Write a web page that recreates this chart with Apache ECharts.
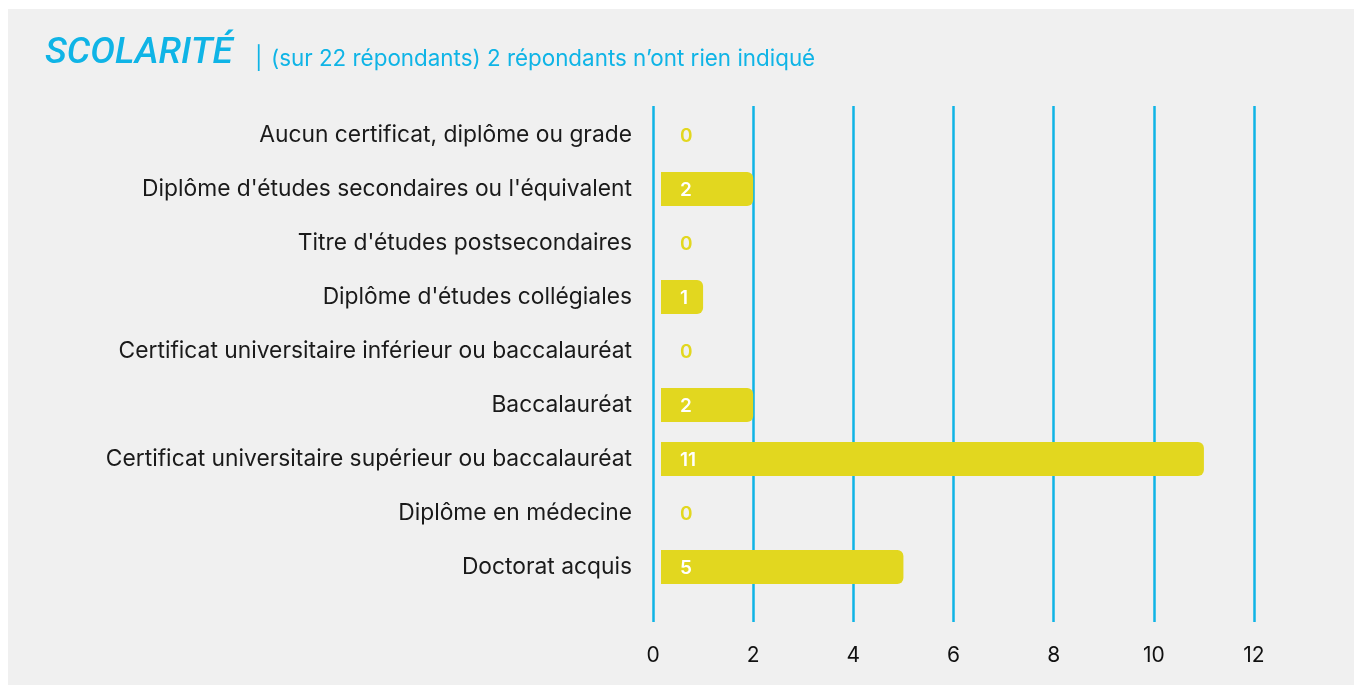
<!DOCTYPE html>
<html>
<head>
<meta charset="utf-8">
<script src="https://cdn.jsdelivr.net/npm/echarts@6/dist/echarts.min.js"></script>
<style>
html,body{margin:0;padding:0;background:#ffffff;}
#chart{width:1354px;height:685px;}
</style>
</head>
<body>
<div id="chart"></div>
<script>
const categories = [
  "Aucun certificat, diplôme ou grade",
  "Diplôme d'études secondaires ou l'équivalent",
  "Titre d'études postsecondaires",
  "Diplôme d'études collégiales",
  "Certificat universitaire inférieur ou baccalauréat",
  "Baccalauréat",
  "Certificat universitaire supérieur ou baccalauréat",
  "Diplôme en médecine",
  "Doctorat acquis"
];
const values = [0, 2, 0, 1, 0, 2, 11, 0, 5];
const xTicks = { min: 0, max: 12, interval: 2 };
const titleText = "SCOLARITÉ";
const separatorText = "|";
const subtitleText = "(sur 22 répondants) 2 répondants n’ont rien indiqué";

const BLUE = '#0fb4e6';
const YELLOW = '#e2d71f';
const BG = '#f0f0f0';

const chart = echarts.init(document.getElementById('chart'), null, {renderer: 'canvas'});

const option = {
  backgroundColor: '#ffffff',
  animation: false,
  graphic: [
    { type: 'rect', left: 8, top: 9, z: -10, shape: { width: 1346, height: 676 }, style: { fill: BG } },
    { type: 'text', left: 45, top: 35, style: { text: titleText, fill: BLUE, font: 'italic 500 37px Roboto' } },
    { type: 'text', left: 255, top: 48, style: { text: separatorText, fill: BLUE, font: '400 22.4px Inter' } },
    { type: 'text', left: 271, top: 48, style: { text: subtitleText, fill: BLUE, font: '400 22.4px Inter' } }
  ],
  grid: [
    { left: 653, right: 100, top: 106, bottom: 63 },
    { left: 653, right: 100, top: 108, bottom: 91 }
  ],
  xAxis: [
    {
      gridIndex: 0, type: 'value', min: xTicks.min, max: xTicks.max, interval: xTicks.interval,
      axisLine: { show: false }, axisTick: { show: false },
      splitLine: { show: true, lineStyle: { color: BLUE, width: 2.5 } },
      axisLabel: { margin: 23, color: '#111111', fontFamily: 'Inter', fontSize: 21 }
    },
    {
      gridIndex: 1, type: 'value', min: xTicks.min, max: xTicks.max, interval: xTicks.interval,
      show: false
    }
  ],
  yAxis: [
    { gridIndex: 0, type: 'value', show: false },
    {
      gridIndex: 1, type: 'category', data: categories, inverse: true,
      axisLine: { show: false }, axisTick: { show: false }, splitLine: { show: false },
      axisLabel: { margin: 21, color: '#1a1a1a', fontFamily: 'Inter', fontSize: 22.8 }
    }
  ],
  series: [
    {
      type: 'custom',
      xAxisIndex: 1, yAxisIndex: 1,
      data: values.map((v, i) => [v, i]),
      renderItem: function (params, api) {
        const v = api.value(0);
        const idx = api.value(1);
        const start = api.coord([0, idx]);
        const end = api.coord([v, idx]);
        const bandH = api.size([0, 1])[1];
        const h = bandH * 0.63;
        const x0 = start[0] + 8;
        const children = [];
        if (v > 0) {
          children.push({
            type: 'rect',
            shape: { x: x0, y: start[1] - h / 2, width: end[0] - x0, height: h, r: [0, 6, 6, 0] },
            style: { fill: YELLOW }
          });
        }
        children.push({
          type: 'text',
          x: start[0] + 27, y: start[1] + 1.5,
          style: {
            text: String(v), fill: v > 0 ? '#ffffff' : YELLOW,
            font: '600 19px Inter', verticalAlign: 'middle', align: 'left'
          },
          z2: 10
        });
        return { type: 'group', children: children };
      }
    }
  ]
};
chart.setOption(option);
</script>
</body>
</html>
